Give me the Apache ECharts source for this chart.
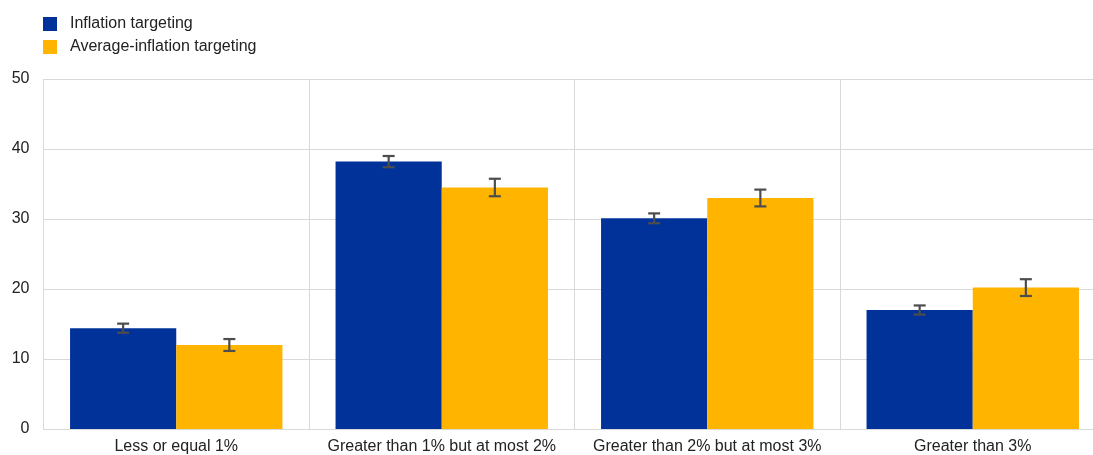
<!DOCTYPE html>
<html>
<head>
<meta charset="utf-8">
<script src="https://cdn.jsdelivr.net/npm/echarts@6/dist/echarts.min.js"></script>
<style>
html,body{margin:0;padding:0;background:#fff;}
#chart{width:1093px;height:455px;}
</style>
</head>
<body>
<div id="chart"></div>
<script>
const categories = ['Less or equal 1%', 'Greater than 1% but at most 2%', 'Greater than 2% but at most 3%', 'Greater than 3%'];
const seriesNames = ['Inflation targeting', 'Average-inflation targeting'];
const inflationTargeting = [14.4, 38.2, 30.1, 17.0];
const averageInflationTargeting = [12.0, 34.5, 33.0, 20.2];
const inflationTargetingErr = [0.65, 0.8, 0.7, 0.65];
const averageInflationTargetingErr = [0.85, 1.25, 1.2, 1.2];
const yTicks = [0, 10, 20, 30, 40, 50];

const colors = ['#003299', '#FFB400'];
const errColor = '#4d4d4d';

function errData(vals, errs) {
  return vals.map((v, i) => [i, v - errs[i], v + errs[i]]);
}

function errRender(offsetSign) {
  return function (params, api) {
    const idx = api.value(0);
    const lo = api.coord([idx, api.value(1)]);
    const hi = api.coord([idx, api.value(2)]);
    const band = api.size([1, 0])[0];
    const x = lo[0] + offsetSign * band * 0.2;
    const hw = 6;
    const style = { stroke: errColor, lineWidth: 2.2 };
    return {
      type: 'group',
      children: [
        { type: 'line', shape: { x1: x, y1: hi[1], x2: x, y2: lo[1] }, style },
        { type: 'line', shape: { x1: x - hw, y1: hi[1], x2: x + hw, y2: hi[1] }, style },
        { type: 'line', shape: { x1: x - hw, y1: lo[1], x2: x + hw, y2: lo[1] }, style }
      ]
    };
  };
}

const chart = echarts.init(document.getElementById('chart'), null, { renderer: 'canvas' });
chart.setOption({
  animation: false,
  textStyle: { fontFamily: '"Liberation Sans", Arial, sans-serif' },
  legend: {
    orient: 'vertical',
    left: 38,
    top: 11,
    itemWidth: 14,
    itemHeight: 14,
    itemGap: 7,
    icon: 'rect',
    textStyle: { fontSize: 16, color: '#222', padding: [0, 0, 0, 8] },
    data: seriesNames
  },
  grid: { left: 43.5, width: 1062, top: 79, bottom: 26, containLabel: false, outerBoundsMode: 'none' },
  xAxis: {
    type: 'category',
    data: categories,
    axisLine: { show: true, lineStyle: { color: '#d9d9d9', width: 1 } },
    axisTick: { show: false, interval: 0 },
    splitLine: { show: true, interval: 0, lineStyle: { color: '#d9d9d9', width: 1 } },
    axisLabel: { fontSize: 16, color: '#222', margin: 10, interval: 0, hideOverlap: false }
  },
  yAxis: {
    type: 'value',
    min: yTicks[0],
    max: yTicks[yTicks.length - 1],
    interval: 10,
    axisLine: { show: false },
    axisTick: { show: false },
    splitLine: { lineStyle: { color: '#d9d9d9', width: 1 } },
    axisLabel: { fontSize: 16, color: '#222', margin: 14 }
  },
  series: [
    {
      name: seriesNames[0], type: 'bar', data: inflationTargeting,
      itemStyle: { color: colors[0] }, barGap: '0%', barCategoryGap: '20%'
    },
    {
      name: seriesNames[1], type: 'bar', data: averageInflationTargeting,
      itemStyle: { color: colors[1] }, barGap: '0%', barCategoryGap: '20%'
    },
    {
      type: 'custom', name: 'err0', renderItem: errRender(-1),
      data: errData(inflationTargeting, inflationTargetingErr),
      encode: { x: 0, y: [1, 2] }, z: 10, silent: true
    },
    {
      type: 'custom', name: 'err1', renderItem: errRender(1),
      data: errData(averageInflationTargeting, averageInflationTargetingErr),
      encode: { x: 0, y: [1, 2] }, z: 10, silent: true
    }
  ]
});
</script>
</body>
</html>
